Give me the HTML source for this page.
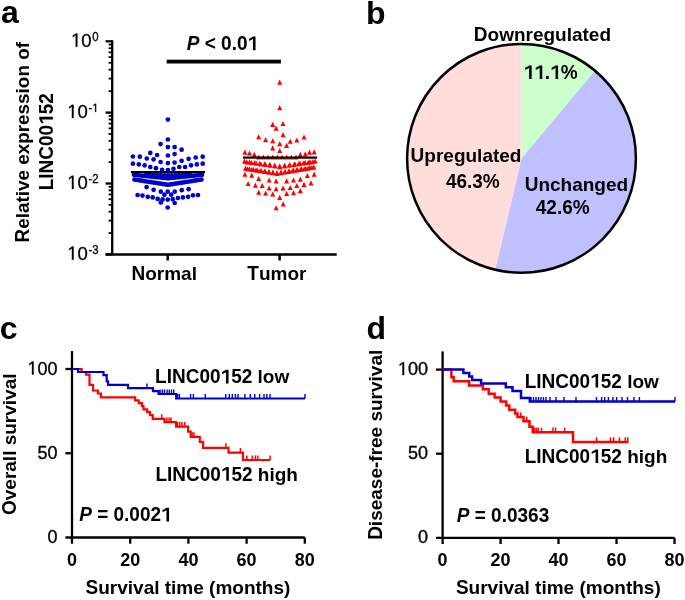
<!DOCTYPE html>
<html><head><meta charset="utf-8"><style>
html,body{margin:0;padding:0;background:#fff;}
svg{display:block;will-change:transform;}
text{font-kerning:none;white-space:pre;}
</style></head><body>
<svg width="685" height="600" viewBox="0 0 685 600">
<rect width="685" height="600" fill="#fff"/>
<text xml:space="preserve" transform="translate(1.06,23)" font-family="Liberation Sans, sans-serif" font-weight="bold" font-style="normal" font-size="32">a</text>
<text xml:space="preserve" transform="translate(365.90,24)" font-family="Liberation Sans, sans-serif" font-weight="bold" font-style="normal" font-size="32">b</text>
<text xml:space="preserve" transform="translate(-0.25,339)" font-family="Liberation Sans, sans-serif" font-weight="bold" font-style="normal" font-size="32">c</text>
<text xml:space="preserve" transform="translate(366.50,339)" font-family="Liberation Sans, sans-serif" font-weight="bold" font-style="normal" font-size="32">d</text>
<line x1="112.2" y1="40.199999999999996" x2="112.2" y2="254.4" stroke="#000" stroke-width="2.3"/>
<line x1="105.6" y1="254.4" x2="336.7" y2="254.4" stroke="#000" stroke-width="2.5"/>
<line x1="105.6" y1="41.3" x2="112.2" y2="41.3" stroke="#000" stroke-width="2.3"/>
<line x1="108.6" y1="91.14" x2="112.2" y2="91.14" stroke="#000" stroke-width="1.8"/>
<line x1="108.6" y1="78.58" x2="112.2" y2="78.58" stroke="#000" stroke-width="1.8"/>
<line x1="108.6" y1="69.67" x2="112.2" y2="69.67" stroke="#000" stroke-width="1.8"/>
<line x1="108.6" y1="62.76" x2="112.2" y2="62.76" stroke="#000" stroke-width="1.8"/>
<line x1="108.6" y1="57.12" x2="112.2" y2="57.12" stroke="#000" stroke-width="1.8"/>
<line x1="108.6" y1="52.34" x2="112.2" y2="52.34" stroke="#000" stroke-width="1.8"/>
<line x1="108.6" y1="48.21" x2="112.2" y2="48.21" stroke="#000" stroke-width="1.8"/>
<line x1="108.6" y1="44.56" x2="112.2" y2="44.56" stroke="#000" stroke-width="1.8"/>
<line x1="105.6" y1="112.6" x2="112.2" y2="112.6" stroke="#000" stroke-width="2.3"/>
<line x1="108.6" y1="162.16" x2="112.2" y2="162.16" stroke="#000" stroke-width="1.8"/>
<line x1="108.6" y1="149.67" x2="112.2" y2="149.67" stroke="#000" stroke-width="1.8"/>
<line x1="108.6" y1="140.81" x2="112.2" y2="140.81" stroke="#000" stroke-width="1.8"/>
<line x1="108.6" y1="133.94" x2="112.2" y2="133.94" stroke="#000" stroke-width="1.8"/>
<line x1="108.6" y1="128.33" x2="112.2" y2="128.33" stroke="#000" stroke-width="1.8"/>
<line x1="108.6" y1="123.58" x2="112.2" y2="123.58" stroke="#000" stroke-width="1.8"/>
<line x1="108.6" y1="119.47" x2="112.2" y2="119.47" stroke="#000" stroke-width="1.8"/>
<line x1="108.6" y1="115.84" x2="112.2" y2="115.84" stroke="#000" stroke-width="1.8"/>
<line x1="105.6" y1="183.5" x2="112.2" y2="183.5" stroke="#000" stroke-width="2.3"/>
<line x1="108.6" y1="233.06" x2="112.2" y2="233.06" stroke="#000" stroke-width="1.8"/>
<line x1="108.6" y1="220.57" x2="112.2" y2="220.57" stroke="#000" stroke-width="1.8"/>
<line x1="108.6" y1="211.71" x2="112.2" y2="211.71" stroke="#000" stroke-width="1.8"/>
<line x1="108.6" y1="204.84" x2="112.2" y2="204.84" stroke="#000" stroke-width="1.8"/>
<line x1="108.6" y1="199.23" x2="112.2" y2="199.23" stroke="#000" stroke-width="1.8"/>
<line x1="108.6" y1="194.48" x2="112.2" y2="194.48" stroke="#000" stroke-width="1.8"/>
<line x1="108.6" y1="190.37" x2="112.2" y2="190.37" stroke="#000" stroke-width="1.8"/>
<line x1="108.6" y1="186.74" x2="112.2" y2="186.74" stroke="#000" stroke-width="1.8"/>
<line x1="105.6" y1="254.4" x2="112.2" y2="254.4" stroke="#000" stroke-width="2.3"/>
<line x1="167.7" y1="254.4" x2="167.7" y2="260.5" stroke="#000" stroke-width="2.5"/>
<line x1="279.6" y1="254.4" x2="279.6" y2="260.5" stroke="#000" stroke-width="2.5"/>
<text xml:space="preserve" transform="translate(92.26,40.6) scale(1,1.04)" font-family="Liberation Sans, sans-serif" font-weight="normal" font-style="normal" font-size="11.4" stroke="#000" stroke-width="0.3">0</text>
<path transform="translate(71.08,46.7) scale(0.00903,-0.00939)" d="M515,0L515,1237L197,1010L197,1180L530,1409L696,1409L696,0Z" fill="#000" stroke="#000" stroke-width="0.3" vector-effect="non-scaling-stroke"/>
<text xml:space="preserve" transform="translate(81.37,46.7) scale(1,1.04)" font-family="Liberation Sans, sans-serif" font-weight="normal" font-style="normal" font-size="18.5" stroke="#000" stroke-width="0.3">0</text>
<text xml:space="preserve" transform="translate(88.46,111.9) scale(1,1.04)" font-family="Liberation Sans, sans-serif" font-weight="normal" font-style="normal" font-size="11.4" stroke="#000" stroke-width="0.3">-</text>
<path transform="translate(92.26,111.9) scale(0.00557,-0.00579)" d="M515,0L515,1237L197,1010L197,1180L530,1409L696,1409L696,0Z" fill="#000" stroke="#000" stroke-width="0.3" vector-effect="non-scaling-stroke"/>
<path transform="translate(67.29,118.0) scale(0.00903,-0.00939)" d="M515,0L515,1237L197,1010L197,1180L530,1409L696,1409L696,0Z" fill="#000" stroke="#000" stroke-width="0.3" vector-effect="non-scaling-stroke"/>
<text xml:space="preserve" transform="translate(77.57,118.0) scale(1,1.04)" font-family="Liberation Sans, sans-serif" font-weight="normal" font-style="normal" font-size="18.5" stroke="#000" stroke-width="0.3">0</text>
<text xml:space="preserve" transform="translate(88.46,182.8) scale(1,1.04)" font-family="Liberation Sans, sans-serif" font-weight="normal" font-style="normal" font-size="11.4" stroke="#000" stroke-width="0.3">-2</text>
<path transform="translate(67.29,188.9) scale(0.00903,-0.00939)" d="M515,0L515,1237L197,1010L197,1180L530,1409L696,1409L696,0Z" fill="#000" stroke="#000" stroke-width="0.3" vector-effect="non-scaling-stroke"/>
<text xml:space="preserve" transform="translate(77.57,188.9) scale(1,1.04)" font-family="Liberation Sans, sans-serif" font-weight="normal" font-style="normal" font-size="18.5" stroke="#000" stroke-width="0.3">0</text>
<text xml:space="preserve" transform="translate(88.46,253.7) scale(1,1.04)" font-family="Liberation Sans, sans-serif" font-weight="normal" font-style="normal" font-size="11.4" stroke="#000" stroke-width="0.3">-3</text>
<path transform="translate(67.29,259.8) scale(0.00903,-0.00939)" d="M515,0L515,1237L197,1010L197,1180L530,1409L696,1409L696,0Z" fill="#000" stroke="#000" stroke-width="0.3" vector-effect="non-scaling-stroke"/>
<text xml:space="preserve" transform="translate(77.57,259.8) scale(1,1.04)" font-family="Liberation Sans, sans-serif" font-weight="normal" font-style="normal" font-size="18.5" stroke="#000" stroke-width="0.3">0</text>
<text xml:space="preserve" transform="translate(29.2,142.2) rotate(-90) translate(-100.31,0) scale(1,1.04)" font-family="Liberation Sans, sans-serif" font-weight="bold" font-style="normal" font-size="18.9">R</text>
<text xml:space="preserve" transform="translate(29.2,142.2) rotate(-90) translate(-86.66,0)" font-family="Liberation Sans, sans-serif" font-weight="bold" font-style="normal" font-size="18.9">elative expression of</text>
<text xml:space="preserve" transform="translate(52.9,141.7) rotate(-90) translate(-48.58,0) scale(1,1.04)" font-family="Liberation Sans, sans-serif" font-weight="bold" font-style="normal" font-size="19">LINC00</text>
<path transform="translate(52.9,141.7) rotate(-90) translate(16.88,0) scale(0.00928,-0.00965)" d="M585,0L585,1150L160,945L160,1170L600,1409L860,1409L860,0Z" fill="#000"/>
<text xml:space="preserve" transform="translate(52.9,141.7) rotate(-90) translate(27.45,0) scale(1,1.04)" font-family="Liberation Sans, sans-serif" font-weight="bold" font-style="normal" font-size="19">52</text>
<text xml:space="preserve" transform="translate(131.50,280.3) scale(1,1.04)" font-family="Liberation Sans, sans-serif" font-weight="bold" font-style="normal" font-size="19">N</text>
<text xml:space="preserve" transform="translate(145.22,280.3)" font-family="Liberation Sans, sans-serif" font-weight="bold" font-style="normal" font-size="19">ormal</text>
<text xml:space="preserve" transform="translate(247.30,280.3) scale(1,1.04)" font-family="Liberation Sans, sans-serif" font-weight="bold" font-style="normal" font-size="19">T</text>
<text xml:space="preserve" transform="translate(258.91,280.3)" font-family="Liberation Sans, sans-serif" font-weight="bold" font-style="normal" font-size="19">umor</text>
<text xml:space="preserve" transform="translate(186.80,50.2) scale(1,1.04)" font-family="Liberation Sans, sans-serif" font-weight="bold" font-style="italic" font-size="19">P</text>
<text xml:space="preserve" transform="translate(199.47,50.2) scale(1,1.04)" font-family="Liberation Sans, sans-serif" font-weight="bold" font-style="normal" font-size="19"> &lt; 0.0</text>
<path transform="translate(247.54,50.2) scale(0.00928,-0.00965)" d="M585,0L585,1150L160,945L160,1170L600,1409L860,1409L860,0Z" fill="#000"/>
<rect x="166.6" y="59.7" width="114.3" height="3.8" fill="#000"/>
<circle cx="167.9" cy="119.6" r="2.35" fill="#0000c8"/>
<circle cx="167.9" cy="139.5" r="2.35" fill="#0000c8"/>
<circle cx="160.6" cy="144.1" r="2.35" fill="#0000c8"/>
<circle cx="167.9" cy="147.1" r="2.35" fill="#0000c8"/>
<circle cx="174.6" cy="147.1" r="2.35" fill="#0000c8"/>
<circle cx="181.6" cy="149.7" r="2.35" fill="#0000c8"/>
<circle cx="150.3" cy="152.9" r="2.35" fill="#0000c8"/>
<circle cx="157.1" cy="155.0" r="2.35" fill="#0000c8"/>
<circle cx="167.9" cy="155.5" r="2.35" fill="#0000c8"/>
<circle cx="174.6" cy="154.1" r="2.35" fill="#0000c8"/>
<circle cx="132.9" cy="156.5" r="2.35" fill="#0000c8"/>
<circle cx="139.8" cy="156.7" r="2.35" fill="#0000c8"/>
<circle cx="146.8" cy="158.5" r="2.35" fill="#0000c8"/>
<circle cx="153.6" cy="159.3" r="2.35" fill="#0000c8"/>
<circle cx="160.6" cy="162.0" r="2.35" fill="#0000c8"/>
<circle cx="167.9" cy="163.1" r="2.35" fill="#0000c8"/>
<circle cx="174.6" cy="162.6" r="2.35" fill="#0000c8"/>
<circle cx="181.6" cy="160.8" r="2.35" fill="#0000c8"/>
<circle cx="188.6" cy="158.8" r="2.35" fill="#0000c8"/>
<circle cx="195.7" cy="157.5" r="2.35" fill="#0000c8"/>
<circle cx="202.7" cy="156.7" r="2.35" fill="#0000c8"/>
<circle cx="132.9" cy="163.7" r="2.35" fill="#0000c8"/>
<circle cx="138.8" cy="164.4" r="2.35" fill="#0000c8"/>
<circle cx="144.6" cy="165.3" r="2.35" fill="#0000c8"/>
<circle cx="150.3" cy="167.0" r="2.35" fill="#0000c8"/>
<circle cx="155.9" cy="168.2" r="2.35" fill="#0000c8"/>
<circle cx="162.1" cy="169.9" r="2.35" fill="#0000c8"/>
<circle cx="167.9" cy="170.0" r="2.35" fill="#0000c8"/>
<circle cx="173.5" cy="168.8" r="2.35" fill="#0000c8"/>
<circle cx="179.3" cy="167.0" r="2.35" fill="#0000c8"/>
<circle cx="185.1" cy="167.0" r="2.35" fill="#0000c8"/>
<circle cx="191.0" cy="165.3" r="2.35" fill="#0000c8"/>
<circle cx="196.8" cy="164.4" r="2.35" fill="#0000c8"/>
<circle cx="202.7" cy="163.7" r="2.35" fill="#0000c8"/>
<circle cx="146.6" cy="187.1" r="2.35" fill="#0000c8"/>
<circle cx="153.6" cy="189.8" r="2.35" fill="#0000c8"/>
<circle cx="160.8" cy="191.7" r="2.35" fill="#0000c8"/>
<circle cx="167.7" cy="191.7" r="2.35" fill="#0000c8"/>
<circle cx="174.7" cy="191.7" r="2.35" fill="#0000c8"/>
<circle cx="181.8" cy="190.2" r="2.35" fill="#0000c8"/>
<circle cx="188.6" cy="189.2" r="2.35" fill="#0000c8"/>
<circle cx="164.4" cy="194.7" r="2.35" fill="#0000c8"/>
<circle cx="171.2" cy="194.7" r="2.35" fill="#0000c8"/>
<circle cx="137.6" cy="195.0" r="2.35" fill="#0000c8"/>
<circle cx="142.5" cy="195.6" r="2.35" fill="#0000c8"/>
<circle cx="147.8" cy="196.8" r="2.35" fill="#0000c8"/>
<circle cx="152.7" cy="197.4" r="2.35" fill="#0000c8"/>
<circle cx="157.7" cy="198.9" r="2.35" fill="#0000c8"/>
<circle cx="162.6" cy="199.4" r="2.35" fill="#0000c8"/>
<circle cx="167.7" cy="199.6" r="2.35" fill="#0000c8"/>
<circle cx="172.8" cy="199.2" r="2.35" fill="#0000c8"/>
<circle cx="177.9" cy="198.0" r="2.35" fill="#0000c8"/>
<circle cx="182.9" cy="197.4" r="2.35" fill="#0000c8"/>
<circle cx="188.1" cy="196.8" r="2.35" fill="#0000c8"/>
<circle cx="193.0" cy="195.3" r="2.35" fill="#0000c8"/>
<circle cx="198.0" cy="195.0" r="2.35" fill="#0000c8"/>
<circle cx="160.8" cy="202.5" r="2.35" fill="#0000c8"/>
<circle cx="174.7" cy="203.0" r="2.35" fill="#0000c8"/>
<circle cx="167.7" cy="207.5" r="2.35" fill="#0000c8"/>
<circle cx="134.0" cy="174.8" r="2.35" fill="#0000c8"/>
<circle cx="136.4" cy="175.1" r="2.35" fill="#0000c8"/>
<circle cx="138.9" cy="175.3" r="2.35" fill="#0000c8"/>
<circle cx="141.3" cy="175.6" r="2.35" fill="#0000c8"/>
<circle cx="143.7" cy="175.8" r="2.35" fill="#0000c8"/>
<circle cx="146.1" cy="176.1" r="2.35" fill="#0000c8"/>
<circle cx="148.6" cy="176.3" r="2.35" fill="#0000c8"/>
<circle cx="151.0" cy="176.6" r="2.35" fill="#0000c8"/>
<circle cx="153.4" cy="176.8" r="2.35" fill="#0000c8"/>
<circle cx="155.9" cy="177.1" r="2.35" fill="#0000c8"/>
<circle cx="158.3" cy="177.3" r="2.35" fill="#0000c8"/>
<circle cx="160.7" cy="177.6" r="2.35" fill="#0000c8"/>
<circle cx="163.1" cy="177.8" r="2.35" fill="#0000c8"/>
<circle cx="165.6" cy="178.1" r="2.35" fill="#0000c8"/>
<circle cx="168.0" cy="178.3" r="2.35" fill="#0000c8"/>
<circle cx="170.4" cy="178.1" r="2.35" fill="#0000c8"/>
<circle cx="172.9" cy="177.8" r="2.35" fill="#0000c8"/>
<circle cx="175.3" cy="177.6" r="2.35" fill="#0000c8"/>
<circle cx="177.7" cy="177.3" r="2.35" fill="#0000c8"/>
<circle cx="180.1" cy="177.1" r="2.35" fill="#0000c8"/>
<circle cx="182.6" cy="176.8" r="2.35" fill="#0000c8"/>
<circle cx="185.0" cy="176.6" r="2.35" fill="#0000c8"/>
<circle cx="187.4" cy="176.3" r="2.35" fill="#0000c8"/>
<circle cx="189.9" cy="176.1" r="2.35" fill="#0000c8"/>
<circle cx="192.3" cy="175.8" r="2.35" fill="#0000c8"/>
<circle cx="194.7" cy="175.6" r="2.35" fill="#0000c8"/>
<circle cx="197.1" cy="175.3" r="2.35" fill="#0000c8"/>
<circle cx="199.6" cy="175.1" r="2.35" fill="#0000c8"/>
<circle cx="202.0" cy="174.8" r="2.35" fill="#0000c8"/>
<circle cx="146.0" cy="174.6" r="2.35" fill="#0000c8"/>
<circle cx="149.7" cy="174.7" r="2.35" fill="#0000c8"/>
<circle cx="153.3" cy="174.9" r="2.35" fill="#0000c8"/>
<circle cx="157.0" cy="175.0" r="2.35" fill="#0000c8"/>
<circle cx="160.7" cy="175.1" r="2.35" fill="#0000c8"/>
<circle cx="164.3" cy="175.3" r="2.35" fill="#0000c8"/>
<circle cx="168.0" cy="175.4" r="2.35" fill="#0000c8"/>
<circle cx="171.7" cy="175.3" r="2.35" fill="#0000c8"/>
<circle cx="175.3" cy="175.1" r="2.35" fill="#0000c8"/>
<circle cx="179.0" cy="175.0" r="2.35" fill="#0000c8"/>
<circle cx="182.7" cy="174.9" r="2.35" fill="#0000c8"/>
<circle cx="186.3" cy="174.7" r="2.35" fill="#0000c8"/>
<circle cx="190.0" cy="174.6" r="2.35" fill="#0000c8"/>
<circle cx="134.5" cy="179.6" r="2.35" fill="#0000c8"/>
<circle cx="136.9" cy="180.0" r="2.35" fill="#0000c8"/>
<circle cx="139.3" cy="180.3" r="2.35" fill="#0000c8"/>
<circle cx="141.7" cy="180.7" r="2.35" fill="#0000c8"/>
<circle cx="144.1" cy="181.1" r="2.35" fill="#0000c8"/>
<circle cx="146.5" cy="181.5" r="2.35" fill="#0000c8"/>
<circle cx="148.9" cy="181.8" r="2.35" fill="#0000c8"/>
<circle cx="151.2" cy="182.2" r="2.35" fill="#0000c8"/>
<circle cx="153.6" cy="182.6" r="2.35" fill="#0000c8"/>
<circle cx="156.0" cy="182.9" r="2.35" fill="#0000c8"/>
<circle cx="158.4" cy="183.3" r="2.35" fill="#0000c8"/>
<circle cx="160.8" cy="183.7" r="2.35" fill="#0000c8"/>
<circle cx="163.2" cy="184.1" r="2.35" fill="#0000c8"/>
<circle cx="165.6" cy="184.4" r="2.35" fill="#0000c8"/>
<circle cx="168.0" cy="184.8" r="2.35" fill="#0000c8"/>
<circle cx="170.4" cy="184.4" r="2.35" fill="#0000c8"/>
<circle cx="172.8" cy="184.1" r="2.35" fill="#0000c8"/>
<circle cx="175.2" cy="183.7" r="2.35" fill="#0000c8"/>
<circle cx="177.6" cy="183.3" r="2.35" fill="#0000c8"/>
<circle cx="180.0" cy="182.9" r="2.35" fill="#0000c8"/>
<circle cx="182.4" cy="182.6" r="2.35" fill="#0000c8"/>
<circle cx="184.8" cy="182.2" r="2.35" fill="#0000c8"/>
<circle cx="187.1" cy="181.8" r="2.35" fill="#0000c8"/>
<circle cx="189.5" cy="181.5" r="2.35" fill="#0000c8"/>
<circle cx="191.9" cy="181.1" r="2.35" fill="#0000c8"/>
<circle cx="194.3" cy="180.7" r="2.35" fill="#0000c8"/>
<circle cx="196.7" cy="180.3" r="2.35" fill="#0000c8"/>
<circle cx="199.1" cy="180.0" r="2.35" fill="#0000c8"/>
<circle cx="201.5" cy="179.6" r="2.35" fill="#0000c8"/>
<rect x="130.9" y="171" width="74.2" height="2.2" fill="#000"/>
<path d="M279.7,79.6L282.2,84.7L277.2,84.7Z" fill="#ff0000"/>
<path d="M279.7,105.1L282.2,110.2L277.2,110.2Z" fill="#ff0000"/>
<path d="M272.7,121.8L275.2,126.9L270.2,126.9Z" fill="#ff0000"/>
<path d="M283.0,121.0L285.5,126.1L280.5,126.1Z" fill="#ff0000"/>
<path d="M276.1,125.6L278.6,130.7L273.6,130.7Z" fill="#ff0000"/>
<path d="M283.0,132.1L285.5,137.2L280.5,137.2Z" fill="#ff0000"/>
<path d="M258.7,134.2L261.2,139.3L256.2,139.3Z" fill="#ff0000"/>
<path d="M265.6,137.1L268.1,142.2L263.1,142.2Z" fill="#ff0000"/>
<path d="M272.7,138.2L275.2,143.3L270.2,143.3Z" fill="#ff0000"/>
<path d="M279.7,141.1L282.2,146.2L277.2,146.2Z" fill="#ff0000"/>
<path d="M290.2,138.7L292.7,143.8L287.7,143.8Z" fill="#ff0000"/>
<path d="M296.8,137.4L299.3,142.5L294.3,142.5Z" fill="#ff0000"/>
<path d="M304.0,134.5L306.5,139.6L301.5,139.6Z" fill="#ff0000"/>
<path d="M286.6,142.8L289.1,147.9L284.1,147.9Z" fill="#ff0000"/>
<path d="M272.7,145.3L275.2,150.4L270.2,150.4Z" fill="#ff0000"/>
<path d="M279.7,147.9L282.2,153.0L277.2,153.0Z" fill="#ff0000"/>
<path d="M244.9,149.6L247.4,154.7L242.4,154.7Z" fill="#ff0000"/>
<path d="M249.5,150.5L252.0,155.6L247.0,155.6Z" fill="#ff0000"/>
<path d="M254.3,151.8L256.8,156.9L251.8,156.9Z" fill="#ff0000"/>
<path d="M300.3,151.8L302.8,156.9L297.8,156.9Z" fill="#ff0000"/>
<path d="M305.3,151.3L307.8,156.4L302.8,156.4Z" fill="#ff0000"/>
<path d="M309.5,149.6L312.0,154.7L307.0,154.7Z" fill="#ff0000"/>
<path d="M314.2,149.3L316.7,154.4L311.7,154.4Z" fill="#ff0000"/>
<path d="M244.9,171.7L247.4,176.8L242.4,176.8Z" fill="#ff0000"/>
<path d="M251.7,172.6L254.2,177.7L249.2,177.7Z" fill="#ff0000"/>
<path d="M258.7,176.0L261.2,181.1L256.2,181.1Z" fill="#ff0000"/>
<path d="M269.2,177.4L271.7,182.5L266.7,182.5Z" fill="#ff0000"/>
<path d="M276.1,178.3L278.6,183.4L273.6,183.4Z" fill="#ff0000"/>
<path d="M286.6,178.3L289.1,183.4L284.1,183.4Z" fill="#ff0000"/>
<path d="M293.5,177.4L296.0,182.5L291.0,182.5Z" fill="#ff0000"/>
<path d="M300.3,176.6L302.8,181.7L297.8,181.7Z" fill="#ff0000"/>
<path d="M307.3,173.0L309.8,178.1L304.8,178.1Z" fill="#ff0000"/>
<path d="M314.2,171.7L316.7,176.8L311.7,176.8Z" fill="#ff0000"/>
<path d="M248.1,180.9L250.6,186.0L245.6,186.0Z" fill="#ff0000"/>
<path d="M255.4,182.6L257.9,187.7L252.9,187.7Z" fill="#ff0000"/>
<path d="M262.2,182.9L264.7,188.0L259.7,188.0Z" fill="#ff0000"/>
<path d="M269.2,185.5L271.7,190.6L266.7,190.6Z" fill="#ff0000"/>
<path d="M276.1,186.2L278.6,191.3L273.6,191.3Z" fill="#ff0000"/>
<path d="M283.0,185.5L285.5,190.6L280.5,190.6Z" fill="#ff0000"/>
<path d="M290.2,184.9L292.7,190.0L287.7,190.0Z" fill="#ff0000"/>
<path d="M296.8,182.9L299.3,188.0L294.3,188.0Z" fill="#ff0000"/>
<path d="M304.0,181.8L306.5,186.9L301.5,186.9Z" fill="#ff0000"/>
<path d="M311.0,180.3L313.5,185.4L308.5,185.4Z" fill="#ff0000"/>
<path d="M258.7,189.7L261.2,194.8L256.2,194.8Z" fill="#ff0000"/>
<path d="M265.6,190.5L268.1,195.6L263.1,195.6Z" fill="#ff0000"/>
<path d="M272.7,191.4L275.2,196.5L270.2,196.5Z" fill="#ff0000"/>
<path d="M286.6,190.8L289.1,195.9L284.1,195.9Z" fill="#ff0000"/>
<path d="M293.5,190.1L296.0,195.2L291.0,195.2Z" fill="#ff0000"/>
<path d="M300.3,188.1L302.8,193.2L297.8,193.2Z" fill="#ff0000"/>
<path d="M279.7,194.8L282.2,199.9L277.2,199.9Z" fill="#ff0000"/>
<path d="M283.2,201.3L285.7,206.4L280.7,206.4Z" fill="#ff0000"/>
<path d="M276.1,205.2L278.6,210.3L273.6,210.3Z" fill="#ff0000"/>
<path d="M258.7,154.4L261.2,159.5L256.2,159.5Z" fill="#ff0000"/>
<path d="M263.4,154.4L265.9,159.5L260.9,159.5Z" fill="#ff0000"/>
<path d="M268.0,154.4L270.5,159.5L265.5,159.5Z" fill="#ff0000"/>
<path d="M272.7,154.4L275.2,159.5L270.2,159.5Z" fill="#ff0000"/>
<path d="M277.4,154.4L279.9,159.5L274.9,159.5Z" fill="#ff0000"/>
<path d="M282.0,154.4L284.5,159.5L279.5,159.5Z" fill="#ff0000"/>
<path d="M286.7,154.4L289.2,159.5L284.2,159.5Z" fill="#ff0000"/>
<path d="M291.3,154.4L293.8,159.5L288.8,159.5Z" fill="#ff0000"/>
<path d="M296.0,154.4L298.5,159.5L293.5,159.5Z" fill="#ff0000"/>
<path d="M244.5,158.6L247.0,163.7L242.0,163.7Z" fill="#ff0000"/>
<path d="M249.5,159.3L252.0,164.4L247.0,164.4Z" fill="#ff0000"/>
<path d="M254.6,160.0L257.1,165.1L252.1,165.1Z" fill="#ff0000"/>
<path d="M259.6,160.7L262.1,165.8L257.1,165.8Z" fill="#ff0000"/>
<path d="M264.6,161.3L267.1,166.4L262.1,166.4Z" fill="#ff0000"/>
<path d="M269.6,162.0L272.1,167.1L267.1,167.1Z" fill="#ff0000"/>
<path d="M274.7,162.7L277.2,167.8L272.2,167.8Z" fill="#ff0000"/>
<path d="M279.7,163.4L282.2,168.5L277.2,168.5Z" fill="#ff0000"/>
<path d="M284.8,162.7L287.3,167.8L282.3,167.8Z" fill="#ff0000"/>
<path d="M289.8,162.0L292.3,167.1L287.3,167.1Z" fill="#ff0000"/>
<path d="M294.9,161.3L297.4,166.4L292.4,166.4Z" fill="#ff0000"/>
<path d="M300.0,160.5L302.5,165.6L297.5,165.6Z" fill="#ff0000"/>
<path d="M305.1,159.8L307.6,164.9L302.6,164.9Z" fill="#ff0000"/>
<path d="M310.1,159.1L312.6,164.2L307.6,164.2Z" fill="#ff0000"/>
<path d="M315.2,158.4L317.7,163.5L312.7,163.5Z" fill="#ff0000"/>
<path d="M246.8,159.3L249.3,164.4L244.3,164.4Z" fill="#ff0000"/>
<path d="M251.5,160.0L254.0,165.1L249.0,165.1Z" fill="#ff0000"/>
<path d="M256.2,160.7L258.7,165.8L253.7,165.8Z" fill="#ff0000"/>
<path d="M260.9,161.4L263.4,166.5L258.4,166.5Z" fill="#ff0000"/>
<path d="M265.6,162.0L268.1,167.1L263.1,167.1Z" fill="#ff0000"/>
<path d="M270.3,162.7L272.8,167.8L267.8,167.8Z" fill="#ff0000"/>
<path d="M275.0,163.4L277.5,168.5L272.5,168.5Z" fill="#ff0000"/>
<path d="M279.7,164.1L282.2,169.2L277.2,169.2Z" fill="#ff0000"/>
<path d="M284.4,163.4L286.9,168.5L281.9,168.5Z" fill="#ff0000"/>
<path d="M289.2,162.7L291.7,167.8L286.7,167.8Z" fill="#ff0000"/>
<path d="M293.9,162.0L296.4,167.1L291.4,167.1Z" fill="#ff0000"/>
<path d="M298.7,161.2L301.2,166.3L296.2,166.3Z" fill="#ff0000"/>
<path d="M303.4,160.5L305.9,165.6L300.9,165.6Z" fill="#ff0000"/>
<path d="M308.2,159.8L310.7,164.9L305.7,164.9Z" fill="#ff0000"/>
<path d="M312.9,159.1L315.4,164.2L310.4,164.2Z" fill="#ff0000"/>
<path d="M245.5,165.6L248.0,170.7L243.0,170.7Z" fill="#ff0000"/>
<path d="M249.4,166.2L251.9,171.3L246.9,171.3Z" fill="#ff0000"/>
<path d="M253.4,166.8L255.9,171.8L250.9,171.8Z" fill="#ff0000"/>
<path d="M257.3,167.3L259.8,172.4L254.8,172.4Z" fill="#ff0000"/>
<path d="M261.2,167.9L263.8,173.0L258.8,173.0Z" fill="#ff0000"/>
<path d="M265.2,168.5L267.7,173.6L262.7,173.6Z" fill="#ff0000"/>
<path d="M269.1,169.1L271.6,174.2L266.6,174.2Z" fill="#ff0000"/>
<path d="M273.1,169.6L275.6,174.7L270.6,174.7Z" fill="#ff0000"/>
<path d="M277.0,170.2L279.5,175.3L274.5,175.3Z" fill="#ff0000"/>
<path d="M281.1,169.6L283.6,174.7L278.6,174.7Z" fill="#ff0000"/>
<path d="M285.2,168.9L287.7,174.0L282.7,174.0Z" fill="#ff0000"/>
<path d="M289.3,168.3L291.8,173.4L286.8,173.4Z" fill="#ff0000"/>
<path d="M293.4,167.6L295.9,172.7L290.9,172.7Z" fill="#ff0000"/>
<path d="M297.4,167.0L299.9,172.1L294.9,172.1Z" fill="#ff0000"/>
<path d="M301.5,166.3L304.0,171.4L299.0,171.4Z" fill="#ff0000"/>
<path d="M305.6,165.7L308.1,170.8L303.1,170.8Z" fill="#ff0000"/>
<path d="M309.7,165.0L312.2,170.1L307.2,170.1Z" fill="#ff0000"/>
<path d="M313.8,164.4L316.3,169.5L311.3,169.5Z" fill="#ff0000"/>
<path d="M247.4,166.2L249.9,171.3L244.9,171.3Z" fill="#ff0000"/>
<path d="M251.6,166.9L254.1,172.0L249.1,172.0Z" fill="#ff0000"/>
<path d="M255.9,167.5L258.4,172.6L253.4,172.6Z" fill="#ff0000"/>
<path d="M260.1,168.2L262.6,173.3L257.6,173.3Z" fill="#ff0000"/>
<path d="M264.3,168.8L266.8,173.9L261.8,173.9Z" fill="#ff0000"/>
<path d="M268.5,169.5L271.0,174.6L266.0,174.6Z" fill="#ff0000"/>
<path d="M272.8,170.1L275.3,175.2L270.3,175.2Z" fill="#ff0000"/>
<path d="M277.0,170.8L279.5,175.9L274.5,175.9Z" fill="#ff0000"/>
<path d="M280.9,170.2L283.4,175.3L278.4,175.3Z" fill="#ff0000"/>
<path d="M284.8,169.5L287.3,174.6L282.3,174.6Z" fill="#ff0000"/>
<path d="M288.6,168.9L291.1,174.0L286.1,174.0Z" fill="#ff0000"/>
<path d="M292.5,168.2L295.0,173.3L290.0,173.3Z" fill="#ff0000"/>
<path d="M296.4,167.6L298.9,172.7L293.9,172.7Z" fill="#ff0000"/>
<path d="M300.3,166.9L302.8,172.0L297.8,172.0Z" fill="#ff0000"/>
<path d="M304.1,166.3L306.6,171.4L301.6,171.4Z" fill="#ff0000"/>
<path d="M308.0,165.6L310.5,170.7L305.5,170.7Z" fill="#ff0000"/>
<path d="M311.9,165.0L314.4,170.1L309.4,170.1Z" fill="#ff0000"/>
<rect x="242.9" y="156.5" width="74.2" height="2.2" fill="#000"/>
<path d="M521.5,158.4L521.50,44.00A114.4,114.4 0 0 1 594.97,70.71Z" fill="#ccffcc"/>
<path d="M521.5,158.4L594.97,70.71A114.4,114.4 0 0 1 495.14,269.72Z" fill="#c0c0ff"/>
<path d="M521.5,158.4L495.14,269.72A114.4,114.4 0 0 1 521.50,44.00Z" fill="#ffdddd"/>
<circle cx="521.5" cy="158.4" r="114.4" fill="none" stroke="#000" stroke-width="2.5"/>
<text xml:space="preserve" transform="translate(473.80,40.8) scale(1,1.04)" font-family="Liberation Sans, sans-serif" font-weight="bold" font-style="normal" font-size="19">D</text>
<text xml:space="preserve" transform="translate(487.52,40.8)" font-family="Liberation Sans, sans-serif" font-weight="bold" font-style="normal" font-size="19">ownregulated</text>
<path transform="translate(523.70,79) scale(0.00928,-0.00965)" d="M585,0L585,1150L160,945L160,1170L600,1409L860,1409L860,0Z" fill="#000"/>
<path transform="translate(534.27,79) scale(0.00928,-0.00965)" d="M585,0L585,1150L160,945L160,1170L600,1409L860,1409L860,0Z" fill="#000"/>
<text xml:space="preserve" transform="translate(544.83,79) scale(1,1.04)" font-family="Liberation Sans, sans-serif" font-weight="bold" font-style="normal" font-size="19">.</text>
<path transform="translate(550.11,79) scale(0.00928,-0.00965)" d="M585,0L585,1150L160,945L160,1170L600,1409L860,1409L860,0Z" fill="#000"/>
<text xml:space="preserve" transform="translate(560.68,79) scale(1,1.04)" font-family="Liberation Sans, sans-serif" font-weight="bold" font-style="normal" font-size="19">%</text>
<text xml:space="preserve" transform="translate(410.60,162.3) scale(1,1.04)" font-family="Liberation Sans, sans-serif" font-weight="bold" font-style="normal" font-size="19">U</text>
<text xml:space="preserve" transform="translate(424.32,162.3)" font-family="Liberation Sans, sans-serif" font-weight="bold" font-style="normal" font-size="19">pregulated</text>
<text xml:space="preserve" transform="translate(445.90,188) scale(1,1.04)" font-family="Liberation Sans, sans-serif" font-weight="bold" font-style="normal" font-size="19">46.3%</text>
<text xml:space="preserve" transform="translate(524.70,191.4) scale(1,1.04)" font-family="Liberation Sans, sans-serif" font-weight="bold" font-style="normal" font-size="19">U</text>
<text xml:space="preserve" transform="translate(538.42,191.4)" font-family="Liberation Sans, sans-serif" font-weight="bold" font-style="normal" font-size="19">nchanged</text>
<text xml:space="preserve" transform="translate(535.80,213.8) scale(1,1.04)" font-family="Liberation Sans, sans-serif" font-weight="bold" font-style="normal" font-size="19">42.6%</text>
<line x1="72" y1="351.1" x2="72" y2="537.5" stroke="#000" stroke-width="2.3"/>
<line x1="65.4" y1="537.5" x2="304.8" y2="537.5" stroke="#000" stroke-width="2.3"/>
<line x1="65.4" y1="369.0" x2="72" y2="369.0" stroke="#000" stroke-width="2.3"/>
<line x1="65.4" y1="453.25" x2="72" y2="453.25" stroke="#000" stroke-width="2.3"/>
<line x1="72.0" y1="537.5" x2="72.0" y2="543.7" stroke="#000" stroke-width="2.3"/>
<text xml:space="preserve" transform="translate(66.99,566) scale(1,1.04)" font-family="Liberation Sans, sans-serif" font-weight="bold" font-style="normal" font-size="18">0</text>
<line x1="130.2" y1="537.5" x2="130.2" y2="543.7" stroke="#000" stroke-width="2.3"/>
<text xml:space="preserve" transform="translate(120.19,566) scale(1,1.04)" font-family="Liberation Sans, sans-serif" font-weight="bold" font-style="normal" font-size="18">20</text>
<line x1="188.4" y1="537.5" x2="188.4" y2="543.7" stroke="#000" stroke-width="2.3"/>
<text xml:space="preserve" transform="translate(178.39,566) scale(1,1.04)" font-family="Liberation Sans, sans-serif" font-weight="bold" font-style="normal" font-size="18">40</text>
<line x1="246.6" y1="537.5" x2="246.6" y2="543.7" stroke="#000" stroke-width="2.3"/>
<text xml:space="preserve" transform="translate(236.59,566) scale(1,1.04)" font-family="Liberation Sans, sans-serif" font-weight="bold" font-style="normal" font-size="18">60</text>
<line x1="304.8" y1="537.5" x2="304.8" y2="543.7" stroke="#000" stroke-width="2.3"/>
<text xml:space="preserve" transform="translate(294.79,566) scale(1,1.04)" font-family="Liberation Sans, sans-serif" font-weight="bold" font-style="normal" font-size="18">80</text>
<path transform="translate(27.47,374.5) scale(0.00879,-0.00914)" d="M515,0L515,1237L197,1010L197,1180L530,1409L696,1409L696,0Z" fill="#000" stroke="#000" stroke-width="0.35" vector-effect="non-scaling-stroke"/>
<text xml:space="preserve" transform="translate(37.48,374.5) scale(1,1.04)" font-family="Liberation Sans, sans-serif" font-weight="normal" font-style="normal" font-size="18" stroke="#000" stroke-width="0.35">00</text>
<text xml:space="preserve" transform="translate(37.48,458.8) scale(1,1.04)" font-family="Liberation Sans, sans-serif" font-weight="normal" font-style="normal" font-size="18" stroke="#000" stroke-width="0.35">50</text>
<text xml:space="preserve" transform="translate(47.49,543.0) scale(1,1.04)" font-family="Liberation Sans, sans-serif" font-weight="normal" font-style="normal" font-size="18" stroke="#000" stroke-width="0.35">0</text>
<text xml:space="preserve" transform="translate(15.6,444.25) rotate(-90) translate(-70.77,0) scale(1,1.04)" font-family="Liberation Sans, sans-serif" font-weight="bold" font-style="normal" font-size="19">O</text>
<text xml:space="preserve" transform="translate(15.6,444.25) rotate(-90) translate(-55.99,0)" font-family="Liberation Sans, sans-serif" font-weight="bold" font-style="normal" font-size="19">verall survival</text>
<text xml:space="preserve" transform="translate(85.55,594) scale(1,1.04)" font-family="Liberation Sans, sans-serif" font-weight="bold" font-style="normal" font-size="19">S</text>
<text xml:space="preserve" transform="translate(98.22,594)" font-family="Liberation Sans, sans-serif" font-weight="bold" font-style="normal" font-size="19">urvival time (months)</text>
<text xml:space="preserve" transform="translate(79.20,521.4) scale(1,1.04)" font-family="Liberation Sans, sans-serif" font-weight="bold" font-style="italic" font-size="19">P</text>
<text xml:space="preserve" transform="translate(91.87,521.4) scale(1,1.04)" font-family="Liberation Sans, sans-serif" font-weight="bold" font-style="normal" font-size="19"> = 0.002</text>
<path transform="translate(161.07,521.4) scale(0.00928,-0.00965)" d="M585,0L585,1150L160,945L160,1170L600,1409L860,1409L860,0Z" fill="#000"/>
<text xml:space="preserve" transform="translate(155.10,383.4) scale(1,1.04)" font-family="Liberation Sans, sans-serif" font-weight="bold" font-style="normal" font-size="19">LINC00</text>
<path transform="translate(220.56,383.4) scale(0.00928,-0.00965)" d="M585,0L585,1150L160,945L160,1170L600,1409L860,1409L860,0Z" fill="#000"/>
<text xml:space="preserve" transform="translate(231.13,383.4) scale(1,1.04)" font-family="Liberation Sans, sans-serif" font-weight="bold" font-style="normal" font-size="19">52 </text>
<text xml:space="preserve" transform="translate(257.54,383.4)" font-family="Liberation Sans, sans-serif" font-weight="bold" font-style="normal" font-size="19">low</text>
<text xml:space="preserve" transform="translate(155.40,480.7) scale(1,1.04)" font-family="Liberation Sans, sans-serif" font-weight="bold" font-style="normal" font-size="19">LINC00</text>
<path transform="translate(220.86,480.7) scale(0.00928,-0.00965)" d="M585,0L585,1150L160,945L160,1170L600,1409L860,1409L860,0Z" fill="#000"/>
<text xml:space="preserve" transform="translate(231.43,480.7) scale(1,1.04)" font-family="Liberation Sans, sans-serif" font-weight="bold" font-style="normal" font-size="19">52 </text>
<text xml:space="preserve" transform="translate(257.84,480.7)" font-family="Liberation Sans, sans-serif" font-weight="bold" font-style="normal" font-size="19">high</text>
<path d="M72,369H81.6V372H86V374.7H89.5V384.8H93V390.5H97.8V393.5H100.9V397.4H135.2V400.3H138.7V403.2H141.9V406.2H143.5V409.3H147.2V412.2H150.1V415.2H152.7V418.9H164.4V422.2H176.1V426.6H188.1V431.7H190.7V436.8H199.8V441.9H203.1V447.8H228.5V452.7H243V460H270.1" fill="none" stroke="#ff0000" stroke-width="2.2" stroke-linejoin="miter" stroke-linecap="butt"/>
<line x1="161.8" y1="418.9" x2="161.8" y2="414.29999999999995" stroke="#ff0000" stroke-width="1.5"/>
<line x1="166.9" y1="422.2" x2="166.9" y2="417.59999999999997" stroke="#ff0000" stroke-width="1.5"/>
<line x1="169.1" y1="422.2" x2="169.1" y2="417.59999999999997" stroke="#ff0000" stroke-width="1.5"/>
<line x1="171" y1="422.2" x2="171" y2="417.59999999999997" stroke="#ff0000" stroke-width="1.5"/>
<line x1="177.5" y1="426.6" x2="177.5" y2="422.0" stroke="#ff0000" stroke-width="1.5"/>
<line x1="179.7" y1="426.6" x2="179.7" y2="422.0" stroke="#ff0000" stroke-width="1.5"/>
<line x1="181.9" y1="426.6" x2="181.9" y2="422.0" stroke="#ff0000" stroke-width="1.5"/>
<line x1="184.8" y1="426.6" x2="184.8" y2="422.0" stroke="#ff0000" stroke-width="1.5"/>
<line x1="192.1" y1="436.8" x2="192.1" y2="432.2" stroke="#ff0000" stroke-width="1.5"/>
<line x1="193.9" y1="436.8" x2="193.9" y2="432.2" stroke="#ff0000" stroke-width="1.5"/>
<line x1="225.9" y1="447.8" x2="225.9" y2="443.2" stroke="#ff0000" stroke-width="1.5"/>
<line x1="240.4" y1="452.7" x2="240.4" y2="448.09999999999997" stroke="#ff0000" stroke-width="1.5"/>
<line x1="246.8" y1="460" x2="246.8" y2="455.4" stroke="#ff0000" stroke-width="1.5"/>
<line x1="252.2" y1="460" x2="252.2" y2="455.4" stroke="#ff0000" stroke-width="1.5"/>
<line x1="255.5" y1="460" x2="255.5" y2="455.4" stroke="#ff0000" stroke-width="1.5"/>
<line x1="257.8" y1="460" x2="257.8" y2="455.4" stroke="#ff0000" stroke-width="1.5"/>
<line x1="270.1" y1="460" x2="270.1" y2="455.4" stroke="#ff0000" stroke-width="1.5"/>
<path d="M72,369H78.1V372H103.5V375.1H106.7V381.3H108.1V384.9H128V388.1H153V391.2H158.6V394H176.2V398.5H305" fill="none" stroke="#0000cc" stroke-width="2.2" stroke-linejoin="miter" stroke-linecap="butt"/>
<line x1="147" y1="388.1" x2="147" y2="383.5" stroke="#0000cc" stroke-width="1.4"/>
<line x1="160.1" y1="394" x2="160.1" y2="389.4" stroke="#0000cc" stroke-width="1.4"/>
<line x1="162.3" y1="394" x2="162.3" y2="389.4" stroke="#0000cc" stroke-width="1.4"/>
<line x1="164.5" y1="394" x2="164.5" y2="389.4" stroke="#0000cc" stroke-width="1.4"/>
<line x1="167.1" y1="394" x2="167.1" y2="389.4" stroke="#0000cc" stroke-width="1.4"/>
<line x1="169.3" y1="394" x2="169.3" y2="389.4" stroke="#0000cc" stroke-width="1.4"/>
<line x1="171.5" y1="394" x2="171.5" y2="389.4" stroke="#0000cc" stroke-width="1.4"/>
<line x1="173.7" y1="394" x2="173.7" y2="389.4" stroke="#0000cc" stroke-width="1.4"/>
<line x1="177.7" y1="398.5" x2="177.7" y2="393.9" stroke="#0000cc" stroke-width="1.4"/>
<line x1="179.4" y1="398.5" x2="179.4" y2="393.9" stroke="#0000cc" stroke-width="1.4"/>
<line x1="190.6" y1="398.5" x2="190.6" y2="393.9" stroke="#0000cc" stroke-width="1.4"/>
<line x1="193.4" y1="398.5" x2="193.4" y2="393.9" stroke="#0000cc" stroke-width="1.4"/>
<line x1="205.3" y1="398.5" x2="205.3" y2="393.9" stroke="#0000cc" stroke-width="1.4"/>
<line x1="225.7" y1="398.5" x2="225.7" y2="393.9" stroke="#0000cc" stroke-width="1.4"/>
<line x1="229.3" y1="398.5" x2="229.3" y2="393.9" stroke="#0000cc" stroke-width="1.4"/>
<line x1="232.3" y1="398.5" x2="232.3" y2="393.9" stroke="#0000cc" stroke-width="1.4"/>
<line x1="235.4" y1="398.5" x2="235.4" y2="393.9" stroke="#0000cc" stroke-width="1.4"/>
<line x1="238" y1="398.5" x2="238" y2="393.9" stroke="#0000cc" stroke-width="1.4"/>
<line x1="244.9" y1="398.5" x2="244.9" y2="393.9" stroke="#0000cc" stroke-width="1.4"/>
<line x1="250.3" y1="398.5" x2="250.3" y2="393.9" stroke="#0000cc" stroke-width="1.4"/>
<line x1="254.7" y1="398.5" x2="254.7" y2="393.9" stroke="#0000cc" stroke-width="1.4"/>
<line x1="259.6" y1="398.5" x2="259.6" y2="393.9" stroke="#0000cc" stroke-width="1.4"/>
<line x1="264" y1="398.5" x2="264" y2="393.9" stroke="#0000cc" stroke-width="1.4"/>
<line x1="266.8" y1="398.5" x2="266.8" y2="393.9" stroke="#0000cc" stroke-width="1.4"/>
<line x1="270" y1="398.5" x2="270" y2="393.9" stroke="#0000cc" stroke-width="1.4"/>
<line x1="305" y1="398.5" x2="305" y2="393.9" stroke="#0000cc" stroke-width="1.4"/>
<line x1="442.6" y1="351.4" x2="442.6" y2="537.8" stroke="#000" stroke-width="2.3"/>
<line x1="436.0" y1="537.8" x2="674.5" y2="537.8" stroke="#000" stroke-width="2.3"/>
<line x1="436.0" y1="369.6" x2="442.6" y2="369.6" stroke="#000" stroke-width="2.3"/>
<line x1="436.0" y1="453.7" x2="442.6" y2="453.7" stroke="#000" stroke-width="2.3"/>
<line x1="442.6" y1="537.8" x2="442.6" y2="544.0" stroke="#000" stroke-width="2.3"/>
<text xml:space="preserve" transform="translate(437.59,566) scale(1,1.04)" font-family="Liberation Sans, sans-serif" font-weight="bold" font-style="normal" font-size="18">0</text>
<line x1="500.6" y1="537.8" x2="500.6" y2="544.0" stroke="#000" stroke-width="2.3"/>
<text xml:space="preserve" transform="translate(490.59,566) scale(1,1.04)" font-family="Liberation Sans, sans-serif" font-weight="bold" font-style="normal" font-size="18">20</text>
<line x1="558.5" y1="537.8" x2="558.5" y2="544.0" stroke="#000" stroke-width="2.3"/>
<text xml:space="preserve" transform="translate(548.49,566) scale(1,1.04)" font-family="Liberation Sans, sans-serif" font-weight="bold" font-style="normal" font-size="18">40</text>
<line x1="616.5" y1="537.8" x2="616.5" y2="544.0" stroke="#000" stroke-width="2.3"/>
<text xml:space="preserve" transform="translate(606.49,566) scale(1,1.04)" font-family="Liberation Sans, sans-serif" font-weight="bold" font-style="normal" font-size="18">60</text>
<line x1="674.5" y1="537.8" x2="674.5" y2="544.0" stroke="#000" stroke-width="2.3"/>
<text xml:space="preserve" transform="translate(664.49,566) scale(1,1.04)" font-family="Liberation Sans, sans-serif" font-weight="bold" font-style="normal" font-size="18">80</text>
<path transform="translate(397.97,375.1) scale(0.00879,-0.00914)" d="M515,0L515,1237L197,1010L197,1180L530,1409L696,1409L696,0Z" fill="#000" stroke="#000" stroke-width="0.35" vector-effect="non-scaling-stroke"/>
<text xml:space="preserve" transform="translate(407.98,375.1) scale(1,1.04)" font-family="Liberation Sans, sans-serif" font-weight="normal" font-style="normal" font-size="18" stroke="#000" stroke-width="0.35">00</text>
<text xml:space="preserve" transform="translate(407.98,459.2) scale(1,1.04)" font-family="Liberation Sans, sans-serif" font-weight="normal" font-style="normal" font-size="18" stroke="#000" stroke-width="0.35">50</text>
<text xml:space="preserve" transform="translate(417.99,543.3) scale(1,1.04)" font-family="Liberation Sans, sans-serif" font-weight="normal" font-style="normal" font-size="18" stroke="#000" stroke-width="0.35">0</text>
<text xml:space="preserve" transform="translate(382,444.8) rotate(-90) translate(-95.06,0) scale(1,1.04)" font-family="Liberation Sans, sans-serif" font-weight="bold" font-style="normal" font-size="19">D</text>
<text xml:space="preserve" transform="translate(382,444.8) rotate(-90) translate(-81.34,0)" font-family="Liberation Sans, sans-serif" font-weight="bold" font-style="normal" font-size="19">isease</text>
<text xml:space="preserve" transform="translate(382,444.8) rotate(-90) translate(-23.23,0) scale(1,1.04)" font-family="Liberation Sans, sans-serif" font-weight="bold" font-style="normal" font-size="19">-</text>
<text xml:space="preserve" transform="translate(382,444.8) rotate(-90) translate(-16.90,0)" font-family="Liberation Sans, sans-serif" font-weight="bold" font-style="normal" font-size="19">free survival</text>
<text xml:space="preserve" transform="translate(455.90,594) scale(1,1.04)" font-family="Liberation Sans, sans-serif" font-weight="bold" font-style="normal" font-size="19">S</text>
<text xml:space="preserve" transform="translate(468.57,594)" font-family="Liberation Sans, sans-serif" font-weight="bold" font-style="normal" font-size="19">urvival time (months)</text>
<text xml:space="preserve" transform="translate(456.80,522.4) scale(1,1.04)" font-family="Liberation Sans, sans-serif" font-weight="bold" font-style="italic" font-size="19">P</text>
<text xml:space="preserve" transform="translate(469.47,522.4) scale(1,1.04)" font-family="Liberation Sans, sans-serif" font-weight="bold" font-style="normal" font-size="19"> = 0.0363</text>
<text xml:space="preserve" transform="translate(524.70,387.5) scale(1,1.04)" font-family="Liberation Sans, sans-serif" font-weight="bold" font-style="normal" font-size="19">LINC00</text>
<path transform="translate(590.16,387.5) scale(0.00928,-0.00965)" d="M585,0L585,1150L160,945L160,1170L600,1409L860,1409L860,0Z" fill="#000"/>
<text xml:space="preserve" transform="translate(600.73,387.5) scale(1,1.04)" font-family="Liberation Sans, sans-serif" font-weight="bold" font-style="normal" font-size="19">52 </text>
<text xml:space="preserve" transform="translate(627.14,387.5)" font-family="Liberation Sans, sans-serif" font-weight="bold" font-style="normal" font-size="19">low</text>
<text xml:space="preserve" transform="translate(524.70,463) scale(1,1.04)" font-family="Liberation Sans, sans-serif" font-weight="bold" font-style="normal" font-size="19">LINC00</text>
<path transform="translate(590.16,463) scale(0.00928,-0.00965)" d="M585,0L585,1150L160,945L160,1170L600,1409L860,1409L860,0Z" fill="#000"/>
<text xml:space="preserve" transform="translate(600.73,463) scale(1,1.04)" font-family="Liberation Sans, sans-serif" font-weight="bold" font-style="normal" font-size="19">52 </text>
<text xml:space="preserve" transform="translate(627.14,463)" font-family="Liberation Sans, sans-serif" font-weight="bold" font-style="normal" font-size="19">high</text>
<path d="M442.6,369.6H451.4V377.2H453.7V381.3H469.1V385.6H482.9V389.3H488.7V393.7H494.6V397.4H500.6V401.5H506.1V405.6H509.3V409.7H515.2V413.4H517.5V417.1H523.5V421.2H529.5V426.7H532.7V432.2H573V441.9H628.4" fill="none" stroke="#ff0000" stroke-width="2.5" stroke-linejoin="miter" stroke-linecap="butt"/>
<line x1="520.7" y1="417.1" x2="520.7" y2="412.5" stroke="#ff0000" stroke-width="1.5"/>
<line x1="526.7" y1="421.2" x2="526.7" y2="416.59999999999997" stroke="#ff0000" stroke-width="1.5"/>
<line x1="534.5" y1="432.2" x2="534.5" y2="427.59999999999997" stroke="#ff0000" stroke-width="1.5"/>
<line x1="536.3" y1="432.2" x2="536.3" y2="427.59999999999997" stroke="#ff0000" stroke-width="1.5"/>
<line x1="538.2" y1="432.2" x2="538.2" y2="427.59999999999997" stroke="#ff0000" stroke-width="1.5"/>
<line x1="541.5" y1="432.2" x2="541.5" y2="427.59999999999997" stroke="#ff0000" stroke-width="1.5"/>
<line x1="553" y1="432.2" x2="553" y2="427.59999999999997" stroke="#ff0000" stroke-width="1.5"/>
<line x1="555.5" y1="432.2" x2="555.5" y2="427.59999999999997" stroke="#ff0000" stroke-width="1.5"/>
<line x1="564.6" y1="432.2" x2="564.6" y2="427.59999999999997" stroke="#ff0000" stroke-width="1.5"/>
<line x1="596.5" y1="441.9" x2="596.5" y2="437.29999999999995" stroke="#ff0000" stroke-width="1.5"/>
<line x1="610.5" y1="441.9" x2="610.5" y2="437.29999999999995" stroke="#ff0000" stroke-width="1.5"/>
<line x1="613.6" y1="441.9" x2="613.6" y2="437.29999999999995" stroke="#ff0000" stroke-width="1.5"/>
<line x1="619.4" y1="441.9" x2="619.4" y2="437.29999999999995" stroke="#ff0000" stroke-width="1.5"/>
<line x1="625.3" y1="441.9" x2="625.3" y2="437.29999999999995" stroke="#ff0000" stroke-width="1.5"/>
<line x1="627.8" y1="441.9" x2="627.8" y2="437.29999999999995" stroke="#ff0000" stroke-width="1.5"/>
<path d="M442.6,369.6H463.4V373.1H469.2V376.6H472.1V380.1H481.1V383.6H505.8V387.3H512.5V391.1H521V398.1H529.8V401.6H675" fill="none" stroke="#0000cc" stroke-width="2.5" stroke-linejoin="miter" stroke-linecap="butt"/>
<line x1="531" y1="401.6" x2="531" y2="397.0" stroke="#0000cc" stroke-width="1.4"/>
<line x1="533.5" y1="401.6" x2="533.5" y2="397.0" stroke="#0000cc" stroke-width="1.4"/>
<line x1="536" y1="401.6" x2="536" y2="397.0" stroke="#0000cc" stroke-width="1.4"/>
<line x1="538.5" y1="401.6" x2="538.5" y2="397.0" stroke="#0000cc" stroke-width="1.4"/>
<line x1="541" y1="401.6" x2="541" y2="397.0" stroke="#0000cc" stroke-width="1.4"/>
<line x1="543.5" y1="401.6" x2="543.5" y2="397.0" stroke="#0000cc" stroke-width="1.4"/>
<line x1="546" y1="401.6" x2="546" y2="397.0" stroke="#0000cc" stroke-width="1.4"/>
<line x1="550" y1="401.6" x2="550" y2="397.0" stroke="#0000cc" stroke-width="1.4"/>
<line x1="556" y1="401.6" x2="556" y2="397.0" stroke="#0000cc" stroke-width="1.4"/>
<line x1="564" y1="401.6" x2="564" y2="397.0" stroke="#0000cc" stroke-width="1.4"/>
<line x1="576" y1="401.6" x2="576" y2="397.0" stroke="#0000cc" stroke-width="1.4"/>
<line x1="596.5" y1="401.6" x2="596.5" y2="397.0" stroke="#0000cc" stroke-width="1.4"/>
<line x1="601.6" y1="401.6" x2="601.6" y2="397.0" stroke="#0000cc" stroke-width="1.4"/>
<line x1="604.7" y1="401.6" x2="604.7" y2="397.0" stroke="#0000cc" stroke-width="1.4"/>
<line x1="608.4" y1="401.6" x2="608.4" y2="397.0" stroke="#0000cc" stroke-width="1.4"/>
<line x1="612.9" y1="401.6" x2="612.9" y2="397.0" stroke="#0000cc" stroke-width="1.4"/>
<line x1="616.6" y1="401.6" x2="616.6" y2="397.0" stroke="#0000cc" stroke-width="1.4"/>
<line x1="622" y1="401.6" x2="622" y2="397.0" stroke="#0000cc" stroke-width="1.4"/>
<line x1="627.5" y1="401.6" x2="627.5" y2="397.0" stroke="#0000cc" stroke-width="1.4"/>
<line x1="633.9" y1="401.6" x2="633.9" y2="397.0" stroke="#0000cc" stroke-width="1.4"/>
<line x1="639.4" y1="401.6" x2="639.4" y2="397.0" stroke="#0000cc" stroke-width="1.4"/>
<line x1="675" y1="401.6" x2="675" y2="397.0" stroke="#0000cc" stroke-width="1.4"/>
</svg></body></html>
